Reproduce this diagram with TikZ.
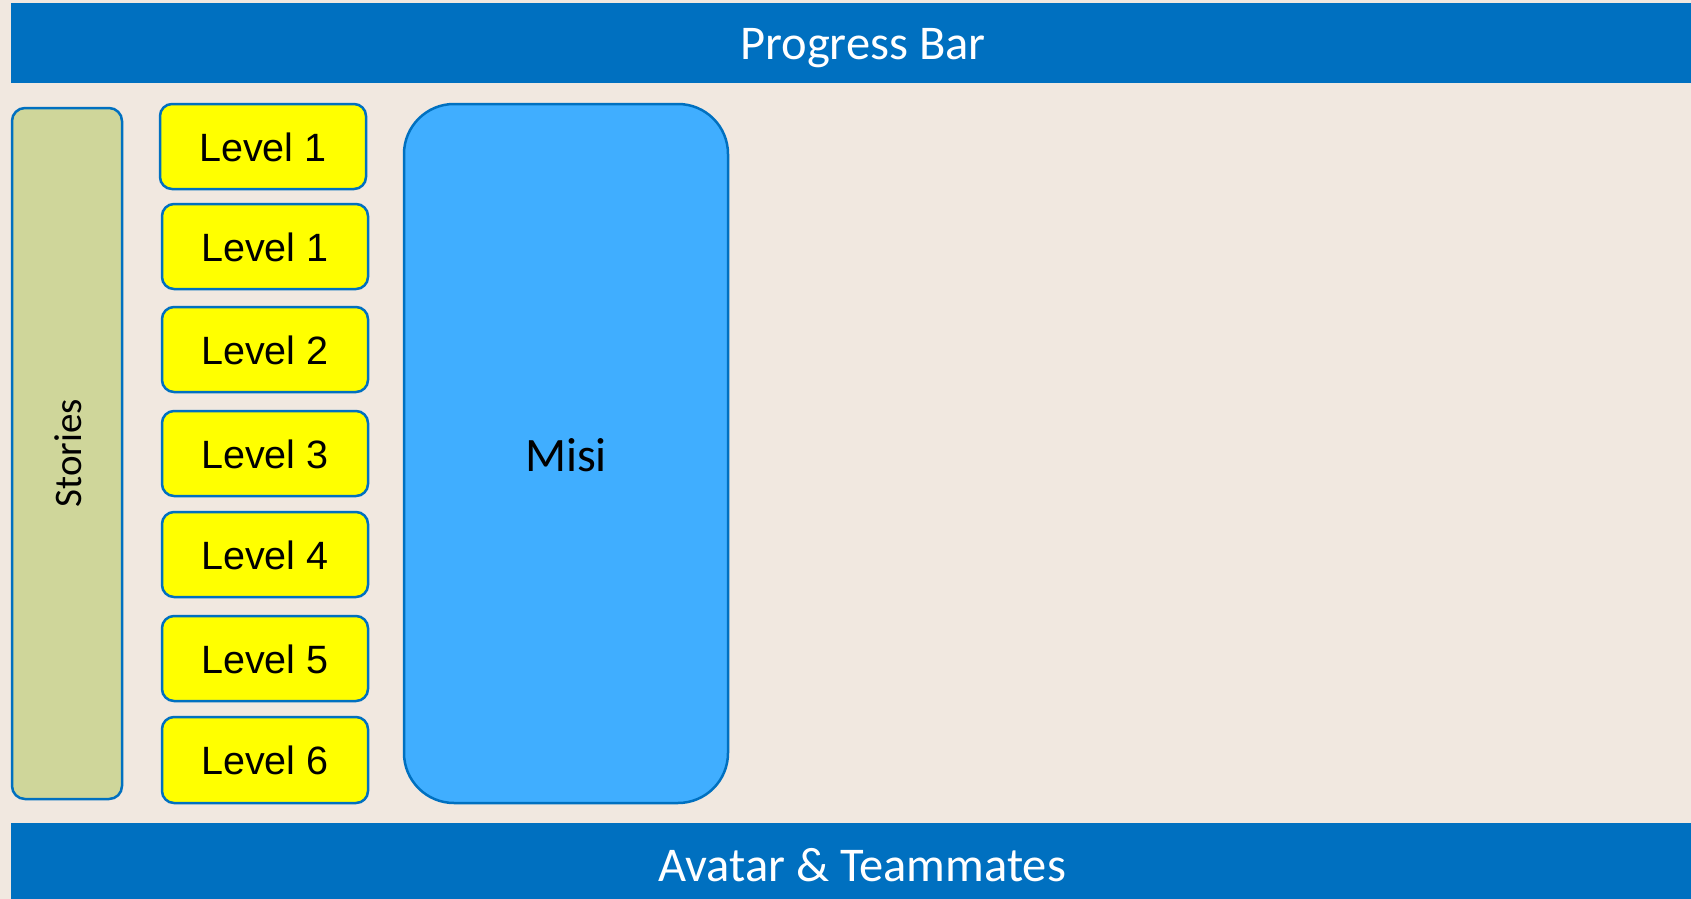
\documentclass[tikz,border=0pt]{standalone}
\usepackage{fontspec}
\setmainfont{Carlito}
\newfontfamily\arialfont{Liberation Sans}
\definecolor{bgbeige}{HTML}{F1E8E0}
\definecolor{barblue}{HTML}{0070C0}
\definecolor{misiblue}{HTML}{40AEFF}
\definecolor{storygreen}{HTML}{CFD69A}
\definecolor{lvlyellow}{HTML}{FFFF00}
\tikzset{
  bar/.style={fill=barblue, draw=none, inner sep=0pt},
  bartext/.style={text=white, font=\fontsize{48.5}{58}\selectfont},
  levelbox/.style={fill=lvlyellow, draw=barblue, line width=2.5pt, rounded corners=12pt},
  leveltext/.style={font=\arialfont\fontsize{39.5}{47}\selectfont, text=black},
}
\begin{document}
\begin{tikzpicture}[x=1pt,y=-1pt]
\fill[bgbeige] (0,0) rectangle (1691,899);
\useasboundingbox (0,0) rectangle (1691,899);
% bars
\path[bar] (11,3) rectangle (1691,83);
\node[bartext] (progress) at (863,48) {Progress Bar};
\path[bar] (11,823) rectangle (1691,899);
\node[bartext] (avatar) at (862,865) {Avatar \& Teammates};
% stories
\draw[fill=storygreen, draw=barblue, line width=2.5pt, rounded corners=13pt] (12,108) rectangle (122,799);
\node[rotate=90, font=\fontsize{39}{46}\selectfont] (stories) at (68,453) {Stories};
% levels
\draw[levelbox] (160,104) rectangle (366,189);
\node[leveltext] (l0) at (263,147) {Level 1};
\draw[levelbox] (162,204) rectangle (368,289);
\node[leveltext] (l1) at (265,247) {Level 1};
\draw[levelbox] (162,307) rectangle (368,392);
\node[leveltext] (l2) at (265,350) {Level 2};
\draw[levelbox] (162,411) rectangle (368,496);
\node[leveltext] (l3) at (265,454) {Level 3};
\draw[levelbox] (162,512) rectangle (368,597);
\node[leveltext] (l4) at (265,555) {Level 4};
\draw[levelbox] (162,616) rectangle (368,701);
\node[leveltext] (l5) at (265,659) {Level 5};
\draw[levelbox] (162,717) rectangle (368,803);
\node[leveltext] (l6) at (265,760) {Level 6};
% misi
\draw[fill=misiblue, draw=barblue, line width=2.5pt, rounded corners=50pt] (404,104) rectangle (728,803);
\node[font=\fontsize{48}{58}\selectfont] (misi) at (566,455) {Misi};
\end{tikzpicture}
\end{document}
